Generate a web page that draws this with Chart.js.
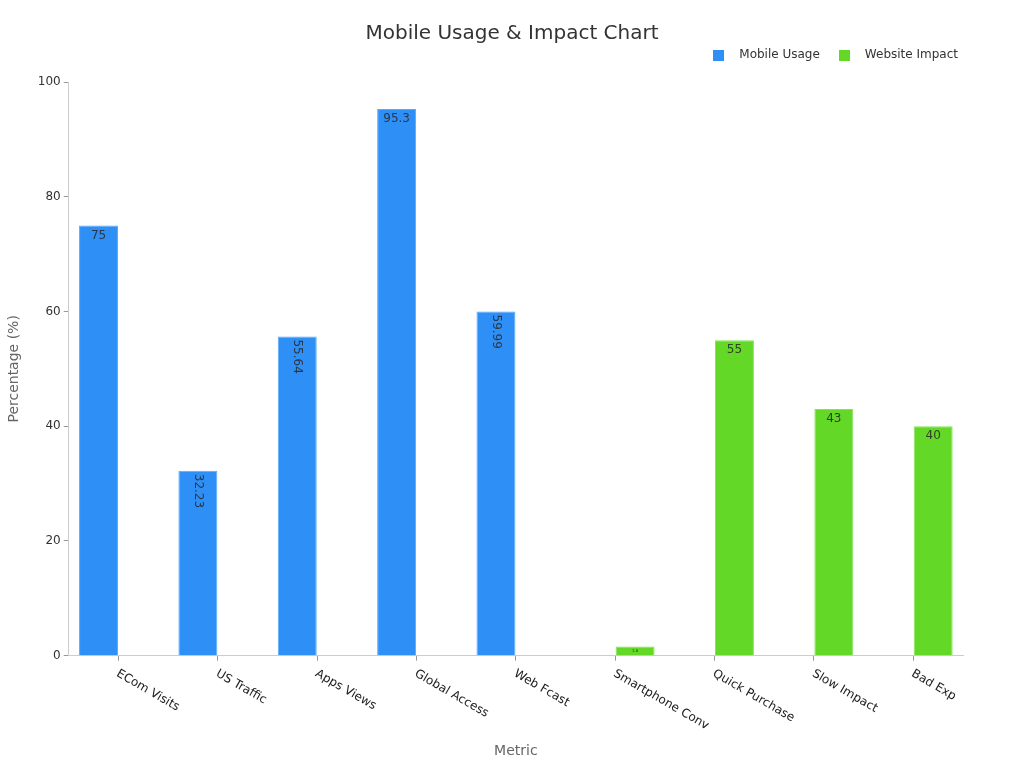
<!DOCTYPE html>
<html>
<head>
<meta charset="utf-8">
<script src="https://cdn.jsdelivr.net/npm/chart.js@4"></script>
<style>
  html, body { margin: 0; padding: 0; background: #fff; }
  #wrap { width: 1024px; height: 768px; }
</style>
</head>
<body>
<div id="wrap"><canvas id="usage-chart"></canvas></div>
<script>
const categories = ['ECom Visits', 'US Traffic', 'Apps Views', 'Global Access', 'Web Fcast',
  'Smartphone Conv', 'Quick Purchase', 'Slow Impact', 'Bad Exp'];
const mobileUsage = [75, 32.23, 55.64, 95.3, 59.99, null, null, null, null];
const websiteImpact = [null, null, null, null, null, 1.6, 55, 43, 40];
const yTicks = [0, 20, 40, 60, 80, 100];

const FONT = "'DejaVu Sans', sans-serif";
const BLUE = '#2e90f7';
const GREEN = '#63d826';

// small square markers for the legend
function makeMarker(color) {
  const c = document.createElement('canvas');
  c.width = 11;
  c.height = 11;
  const g = c.getContext('2d');
  g.fillStyle = color;
  g.fillRect(0, 0, 11, 11);
  return c;
}
const markers = [makeMarker(BLUE), makeMarker(GREEN)];

// value labels inside the top of each bar, turned on their side when too wide
const barLabels = {
  id: 'barLabels',
  afterDatasetsDraw(chart) {
    const ctx = chart.ctx;
    chart.data.datasets.forEach((ds, i) => {
      const meta = chart.getDatasetMeta(i);
      meta.data.forEach((bar, j) => {
        const v = ds.data[j];
        if (v === null || v === undefined) return;
        const w = bar.width;
        const h = bar.base - bar.y;
        let size = 12;
        if (h < 16) size = Math.max(4, h - 5);
        ctx.save();
        ctx.font = size + 'px ' + FONT;
        ctx.fillStyle = 'rgba(40,40,40,0.85)';
        const text = String(v);
        const tw = ctx.measureText(text).width;
        if (tw > w * 0.8) {
          ctx.translate(bar.x, bar.y + 3);
          ctx.rotate(Math.PI / 2);
          ctx.textAlign = 'left';
          ctx.textBaseline = 'middle';
          ctx.fillText(text, 0, 0);
        } else {
          ctx.textAlign = 'center';
          ctx.textBaseline = h < 16 ? 'middle' : 'top';
          ctx.fillText(text, bar.x, h < 16 ? bar.y + h / 2 : bar.y + 4);
        }
        ctx.restore();
      });
    });
  }
};

// x labels slanting down to the right from each tick
const slantLabels = {
  id: 'slantLabels',
  afterDraw(chart) {
    const x = chart.scales.x;
    const ctx = chart.ctx;
    ctx.save();
    ctx.font = '12px ' + FONT;
    ctx.fillStyle = '#222';
    ctx.textAlign = 'left';
    ctx.textBaseline = 'top';
    categories.forEach((c, i) => {
      ctx.save();
      ctx.translate(x.getPixelForTick(i) + 2, x.top + 12);
      ctx.rotate(Math.PI / 6);
      ctx.fillText(c, 0, 0);
      ctx.restore();
    });
    ctx.restore();
  }
};

// title centred on the whole canvas, legend nudged to the right edge
const placeBlocks = {
  id: 'placeBlocks',
  afterLayout(chart) {
    if (chart.titleBlock) {
      chart.titleBlock.left = 0;
      chart.titleBlock.right = chart.width;
    }
    if (chart.legend) {
      chart.legend.right = chart.legend.right + 5;
    }
  }
};

const ctx = document.getElementById('usage-chart').getContext('2d');
new Chart(ctx, {
  type: 'bar',
  data: {
    labels: categories,
    datasets: [
      {
        label: 'Mobile Usage',
        data: mobileUsage,
        xAxisID: 'x',
        yAxisID: 'y',
        backgroundColor: BLUE,
        borderColor: '#5aa9fa',
        borderWidth: 1,
        categoryPercentage: 0.8,
        barPercentage: 0.98
      },
      {
        label: 'Website Impact',
        data: websiteImpact,
        xAxisID: 'x',
        yAxisID: 'y',
        backgroundColor: GREEN,
        borderColor: '#85e35a',
        borderWidth: 1,
        categoryPercentage: 0.8,
        barPercentage: 0.98
      }
    ]
  },
  options: {
    responsive: true,
    maintainAspectRatio: false,
    animation: false,
    layout: { padding: { left: 2, right: 61, top: 1, bottom: 4 } },
    plugins: {
      title: {
        display: true,
        text: 'Mobile Usage & Impact Chart',
        color: '#333',
        font: { family: FONT, size: 20, weight: 'normal' },
        padding: { top: 21, bottom: -7 }
      },
      legend: {
        align: 'end',
        labels: {
          color: '#333',
          usePointStyle: true,
          pointStyleWidth: 29,
          padding: 10,
          font: { family: FONT, size: 12 },
          generateLabels(chart) {
            const items = Chart.defaults.plugins.legend.labels.generateLabels(chart);
            items.forEach((it, i) => { it.pointStyle = markers[i]; });
            return items;
          }
        }
      },
      tooltip: { enabled: false }
    },
    scales: {
      x: {
        grid: { display: true, drawOnChartArea: false, offset: false, tickLength: 5, color: '#999' },
        border: { color: '#ccc' },
        ticks: {
          color: 'transparent',
          minRotation: 30,
          maxRotation: 30,
          padding: 4,
          font: { family: FONT, size: 12 }
        },
        title: {
          display: true,
          text: 'Metric',
          color: '#666',
          font: { family: FONT, size: 14 },
          padding: { top: 8 }
        }
      },
      gap: {
        type: 'linear',
        position: 'top',
        display: true,
        grid: { display: false },
        border: { display: false },
        ticks: { display: false },
        afterFit(scale) { scale.height = 11; }
      },
      y: {
        min: 0,
        max: 100,
        afterBuildTicks(scale) {
          scale.ticks = yTicks.map(v => ({ value: v }));
        },
        grid: { display: true, drawOnChartArea: false, tickLength: 5, color: '#999' },
        border: { color: '#ccc' },
        ticks: {
          color: '#333',
          padding: 3,
          font: { family: FONT, size: 12 }
        },
        title: {
          display: true,
          text: 'Percentage (%)',
          color: '#666',
          font: { family: FONT, size: 14 },
          padding: { bottom: 12 }
        }
      }
    }
  },
  plugins: [barLabels, slantLabels, placeBlocks]
});
</script>
</body>
</html>
